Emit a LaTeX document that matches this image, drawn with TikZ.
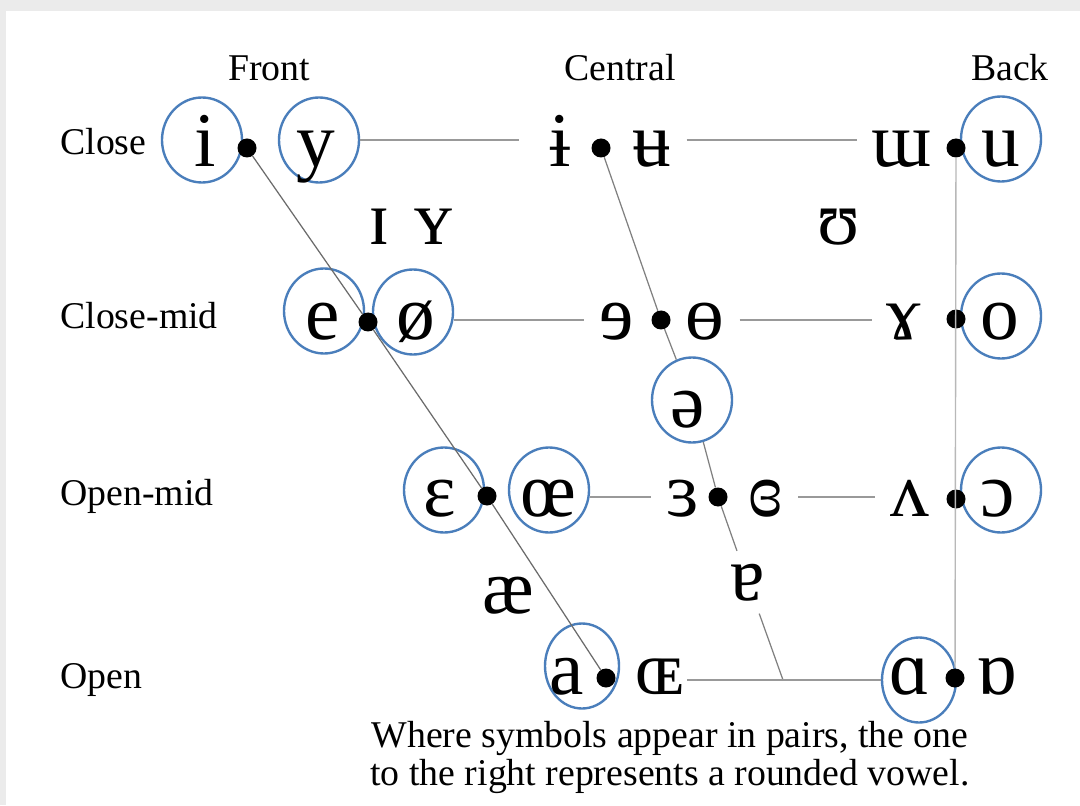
\documentclass[tikz,border=0pt]{standalone}
\usepackage{fontspec}
\setmainfont{Liberation Serif}
\usetikzlibrary{shapes.geometric}

\definecolor{ringblue}{RGB}{74,126,187}

\tikzset{
    heading/.style={font=\fontsize{21.5}{26}\selectfont, anchor=base, inner sep=0pt},
    vowel/.style={font=\fontsize{44}{50}\selectfont, anchor=base, inner xsep=0.3cm, inner ysep=0.1cm},
    ring/.style={ellipse, draw=ringblue, line width=1.35pt, minimum width=1.6cm, minimum height=1.7cm},
    jdot/.style={circle, fill=black, inner sep=0pt, minimum size=0.38cm},
    guide/.style={draw=black!40, line width=0.8pt}
}

\begin{document}
\begin{tikzpicture}
    \useasboundingbox (0,0) rectangle (21.6,16.1);
    % Screenshot frame
    \fill[black!8] (0,0) rectangle (21.6,16.1);
    \fill[white] (0.12,0) rectangle (21.6,15.88);

    % Column and row names
    \node[heading] (front) at (5.38,14.48) {Front};
    \node[heading] (central) at (12.40,14.48) {Central};
    \node[heading] (back) at (20.20,14.48) {Back};
    \node[heading, anchor=base west] (close) at (1.20,13.00) {Close};
    \node[heading, anchor=base west] (closemid) at (1.20,9.52) {Close-mid};
    \node[heading, anchor=base west] (openmid) at (1.20,6.00) {Open-mid};
    \node[heading, anchor=base west] (open) at (1.20,2.34) {Open};

    % Circles round the cardinal vowels
    \node[ring] (ci) at (4.04,13.30) {};
    \node[ring] (cy) at (6.38,13.30) {};
    \node[ring] (cu) at (20.02,13.32) {};
    \node[ring] (ce) at (6.48,9.88) {};
    \node[ring] (coslash) at (8.26,9.86) {};
    \node[ring] (co) at (20.02,9.78) {};
    \node[ring] (cschwa) at (13.84,8.10) {};
    \node[ring] (ceps) at (8.88,6.30) {};
    \node[ring] (coe) at (10.98,6.30) {};
    \node[ring] (copo) at (20.02,6.30) {};
    \node[ring, minimum width=1.48cm] (ca) at (11.64,2.78) {};
    \node[ring, minimum width=1.48cm] (calpha) at (18.38,2.50) {};

    % Close
    \node[vowel] (i) at (4.10,12.76) {i};
    \node[vowel] (y) at (6.32,12.76) {y};
    \node[vowel, inner xsep=0.6cm] (ibar) at (11.20,12.76) {ɨ};
    \node[vowel] (ubar) at (13.04,12.76) {ʉ};
    \node[vowel] (turnm) at (18.04,12.76) {ɯ};
    \node[vowel] (u) at (20.02,12.76) {u};
    % Near-close
    \node[vowel] (smi) at (7.58,11.20) {ɪ};
    \node[vowel] (smy) at (8.68,11.20) {ʏ};
    \node[vowel] (upsilon) at (16.78,11.20) {ʊ};
    % Close-mid
    \node[vowel] (e) at (6.46,9.32) {e};
    \node[vowel] (oslash) at (8.32,9.32) {ø};
    \node[vowel] (reve) at (12.34,9.32) {ɘ};
    \node[vowel] (baro) at (14.10,9.32) {ɵ};
    \node[vowel] (ramsh) at (18.08,9.32) {ɤ};
    \node[vowel] (o) at (20.00,9.32) {o};
    % Mid
    \node[vowel] (schwa) at (13.76,7.56) {ə};
    % Open-mid
    \node[vowel] (eps) at (8.80,5.78) {ɛ};
    \node[vowel] (oe) at (10.96,5.78) {œ};
    \node[vowel] (reveps) at (13.66,5.78) {ɜ};
    \node[vowel] (closedrev) at (15.32,5.78) {ɞ};
    \node[vowel] (turnv) at (18.20,5.78) {ʌ};
    \node[vowel] (opo) at (19.96,5.78) {ɔ};
    % Near-open
    \node[vowel] (ae) at (10.16,3.84) {æ};
    \node[vowel, inner sep=0.25cm] (turna) at (14.96,4.10) {ɐ};
    % Open
    \node[vowel] (a) at (11.34,2.22) {a};
    \node[vowel, inner xsep=0.05cm] (smoe) at (13.20,2.22) {ɶ};
    \node[vowel] (alpha) at (18.20,2.22) {ɑ};
    \node[vowel] (turnalpha) at (19.94,2.22) {ɒ};

    % Dots between the pairs
    \node[jdot] (d11) at (4.94,13.14) {};
    \node[jdot] (d12) at (12.02,13.14) {};
    \node[jdot] (d13) at (19.12,13.14) {};
    \node[jdot] (d21) at (7.36,9.66) {};
    \node[jdot] (d22) at (13.22,9.70) {};
    \node[jdot] (d23) at (19.12,9.72) {};
    \node[jdot] (d31) at (9.74,6.18) {};
    \node[jdot] (d32) at (14.36,6.16) {};
    \node[jdot] (d33) at (19.12,6.12) {};
    \node[jdot] (d41) at (12.12,2.54) {};
    \node[jdot] (d42) at (19.10,2.54) {};
    \coordinate (cj) at (15.66,2.50);

    % Edges of the trapezium
    \draw[guide, draw=black!58, line width=0.7pt] (d11) -- (d21) -- (d31) -- (d41);
    \draw[guide, draw=black!50, line width=0.7pt] (d12) -- (d22) -- (cschwa);
    \draw[guide, draw=black!50, line width=0.7pt] (cschwa) -- (d32) -- (turna) -- (cj);
    \draw[guide, draw=black!28] (d13) -- (d42);

    % Rows
    \draw[guide] (cy.east) -- (cy.east -| ibar.west);
    \draw[guide] (ubar.east |- cy.east) -- (turnm.west |- cy.east);
    \draw[guide] (coslash.east |- d22) -- (reve.west |- d22);
    \draw[guide] (baro.east |- d22) -- (ramsh.west |- d22);
    \draw[guide] (coe.east |- d32) -- (reveps.west |- d32);
    \draw[guide] (closedrev.east |- d32) -- (turnv.west |- d32);
    \draw[guide] (smoe.east |- calpha) -- (calpha.west);

    % Note
    \node[heading] (note1) at (13.40,1.16) {Where symbols appear in pairs, the one};
    \node[heading] (note2) at (13.40,0.40) {to the right represents a rounded vowel.};
\end{tikzpicture}
\end{document}
